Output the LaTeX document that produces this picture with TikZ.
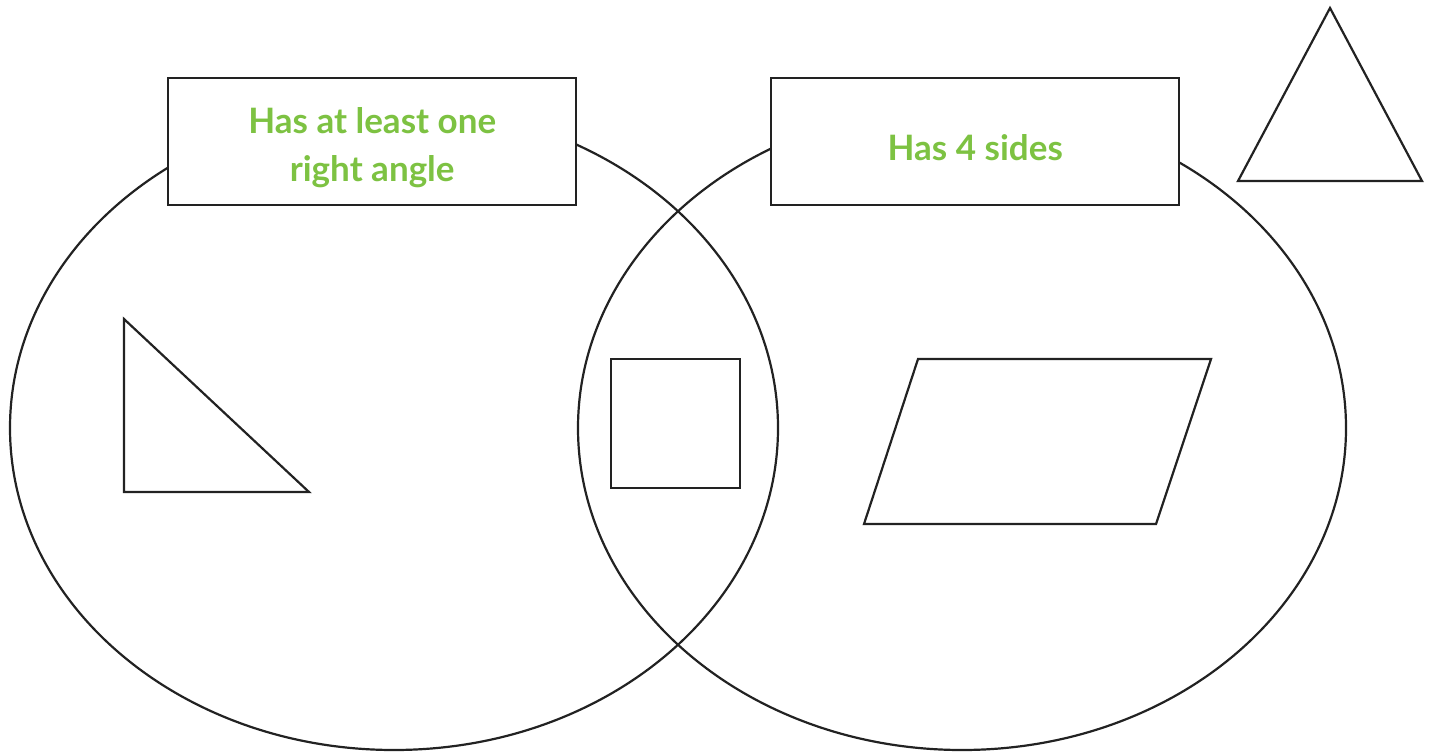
\documentclass[tikz,border=0pt]{standalone}
\usepackage{fontspec}
\setmainfont{Lato}
\definecolor{lbl}{HTML}{7DC242}
\definecolor{ink}{HTML}{222222}
\begin{document}
\begin{tikzpicture}[x=1pt,y=-1pt,
  shapeline/.style={draw=ink,line width=2.2pt,line join=miter},
  labelbox/.style={draw=ink,line width=2.4pt,fill=white,minimum width=408pt,minimum height=127pt,inner sep=0pt,anchor=north west},
  labeltext/.style={font=\fontsize{35}{48}\selectfont\bfseries,text=lbl,align=center,inner sep=0pt,yshift=-6pt}]
\useasboundingbox (0,0) rectangle (1434,754);
\draw[shapeline] (394,428) ellipse [x radius=384, y radius=322];
\draw[shapeline] (962,428) ellipse [x radius=384, y radius=322];
\node[labelbox] (boxA) at (167,77) {};
\node[labelbox] (boxB) at (770,77) {};
\node[labeltext] (textA) at (boxA.center) {Has at least one\\right angle};
\node[labeltext] (textB) at (boxB.center) {Has 4 sides};
\draw[shapeline] (124,319) -- (124,492) -- (309,492) -- cycle;
\draw[shapeline] (611,359) rectangle (740,488);
\draw[shapeline] (918,359) -- (1211,359) -- (1156,524) -- (864,524) -- cycle;
\draw[shapeline] (1330,8) -- (1422,181) -- (1238,181) -- cycle;
\end{tikzpicture}
\end{document}
